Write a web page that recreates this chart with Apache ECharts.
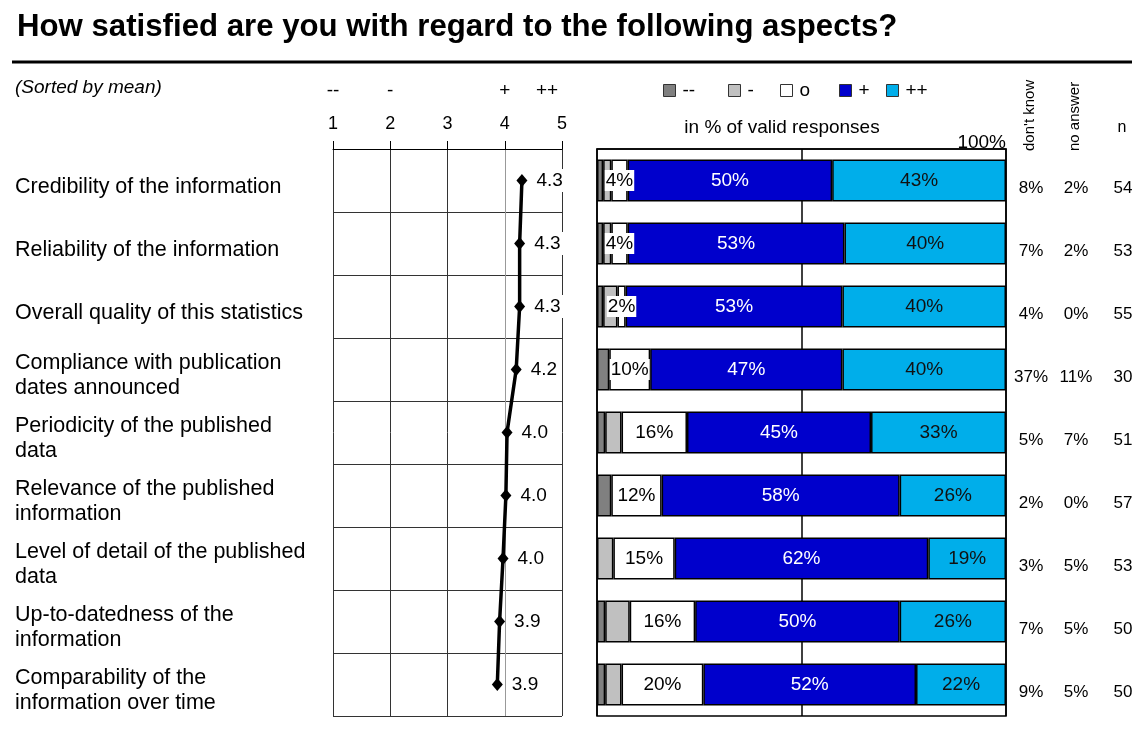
<!DOCTYPE html>
<html>
<head>
<meta charset="utf-8">
<script src="https://cdn.jsdelivr.net/npm/echarts@6/dist/echarts.min.js"></script>
<style>
html,body{margin:0;padding:0;background:#fff;overflow:hidden;}
#chart{width:1132px;height:729px;}
</style>
</head>
<body>
<div id="chart"></div>
<script>
// ---- data ----
const categories = [
  'Credibility of the information',
  'Reliability of the information',
  'Overall quality of this statistics',
  'Compliance with publication\ndates announced',
  'Periodicity of the published\ndata',
  'Relevance of the published\ninformation',
  'Level of detail of the published\ndata',
  'Up-to-datedness of the\ninformation',
  'Comparability of the\ninformation over time'
];
const meanValues = [4.30, 4.26, 4.26, 4.20, 4.04, 4.02, 3.97, 3.91, 3.87];
const scaleTicks = [1, 2, 3, 4, 5];
const scaleLabels = ['--', '-', '', '+', '++'];
const seriesNames = ['--', '-', 'o', '+', '++'];
const pctVeryNeg = [1.5, 1.5, 1.5, 3, 2, 3.5, 0, 2, 2];
const pctNeg     = [2, 2, 3.5, 0, 4, 0, 4, 6, 4];
const pctNeutral = [4, 4, 2, 10, 16, 12.3, 15, 16, 20];
const pctPos     = [50, 53, 53, 47, 45, 58.2, 62, 50, 52];
const pctVeryPos = [42.5, 39.5, 40, 40, 33, 26, 19, 26, 22];
const dontKnow = [8, 7, 4, 37, 5, 2, 3, 7, 9];
const noAnswer = [2, 2, 0, 11, 7, 0, 5, 5, 5];
const nCount   = [54, 53, 55, 30, 51, 57, 53, 50, 50];

// ---- styles ----
const FONT = '"Liberation Sans", Arial, Helvetica, sans-serif';
const colors = ['#808080', '#c0c0c0', '#ffffff', '#0000cc', '#00aeea'];
const labelColors = [null, null, '#000', '#fff', '#111'];
const pctData = [pctVeryNeg, pctNeg, pctNeutral, pctPos, pctVeryPos];
const legendLeft = [663, 728, 780, 839, 886];

const chart = echarts.init(document.getElementById('chart'), null, {renderer: 'canvas'});

const barSeries = seriesNames.map((name, i) => ({
  name: name,
  type: 'bar',
  xAxisIndex: 2,
  yAxisIndex: 1,
  stack: 'total',
  barWidth: 42,
  data: pctData[i].map(v => v === 0 ? '-' : v),
  itemStyle: {color: colors[i], borderColor: '#000', borderWidth: 1.5},
  label: labelColors[i] ? {
    show: true,
    position: 'inside',
    color: labelColors[i],
    fontFamily: FONT,
    fontSize: 19,
    backgroundColor: i === 2 ? '#fff' : 'transparent',
    padding: i === 2 ? [1, 1] : 0,
    formatter: p => Math.round(p.value) + '%'
  } : {show: false},
  emphasis: {disabled: true}
}));

// first text line gets a top padding so labels sit slightly below the row centre
const shifted = (fontSize, firstLH, lh, pad) => ({
  a: {fontFamily: FONT, fontSize: fontSize, lineHeight: firstLH, color: '#000', padding: [pad, 0, 0, 0]},
  b: {fontFamily: FONT, fontSize: fontSize, lineHeight: lh, color: '#000'}
});
const shiftFormatter = v => String(v).split('\n').map((s, k) => (k === 0 ? '{a|' : '{b|') + s + '}').join('\n');

const sideAxis = (arr, margin) => ({
  type: 'category',
  gridIndex: 1,
  inverse: true,
  position: 'right',
  data: arr,
  axisLine: {show: false},
  axisTick: {show: false},
  splitLine: {show: false},
  axisLabel: {
    interval: 0,
    margin: margin, align: 'center', color: '#000', fontFamily: FONT, fontSize: 17,
    formatter: shiftFormatter, rich: shifted(17, 30, 20, 16)
  }
});

const option = {
  backgroundColor: '#fff',
  animation: false,
  title: {
    text: 'How satisfied are you with regard to the following aspects?',
    left: 17, top: 12, padding: 0,
    textStyle: {fontFamily: FONT, fontSize: 31.2, fontWeight: 'bold', color: '#000'}
  },
  legend: seriesNames.map((name, i) => ({
    data: [name],
    left: legendLeft[i],
    top: 81,
    padding: 0,
    icon: 'rect',
    itemWidth: 12,
    itemHeight: 12,
    selectedMode: false,
    itemStyle: {borderColor: '#333', borderWidth: 1},
    textStyle: {fontFamily: FONT, fontSize: 19, color: '#000', padding: [0, 0, 0, 2]}
  })),
  grid: [
    {left: 333, right: 570, top: 149, bottom: 13, containLabel: false, outerBoundsMode: 'none'},
    {left: 597, right: 126, top: 149, bottom: 13, containLabel: false, outerBoundsMode: 'none',
     show: true, borderColor: '#000', borderWidth: 1.5, backgroundColor: 'transparent'}
  ],
  xAxis: [
    {
      type: 'value', gridIndex: 0, position: 'top',
      min: 1, max: 5, interval: 1,
      axisLine: {show: true, lineStyle: {color: '#000', width: 1}},
      axisTick: {show: true, inside: false, length: 8, lineStyle: {color: '#000'}},
      axisLabel: {margin: 16, color: '#000', fontFamily: FONT, fontSize: 18,
                  formatter: v => scaleTicks.indexOf(v) >= 0 ? String(v) : ''},
      splitLine: {show: true, lineStyle: {color: ['#333', '#333', '#333', '#999', '#333'], width: 1}}
    },
    {
      type: 'value', gridIndex: 0, position: 'top',
      min: 1, max: 5, interval: 1,
      axisLine: {show: false}, axisTick: {show: false}, splitLine: {show: false},
      axisLabel: {
        margin: 49, color: '#000', fontFamily: FONT, fontSize: 19,
        formatter: v => {
          const s = scaleLabels[v - 1] || '';
          if (!s) return '';
          return v === 5 ? '{r|' + s + '}' : s;
        },
        rich: {r: {fontFamily: FONT, fontSize: 19, color: '#000', padding: [0, 30, 0, 0]}}
      }
    },
    {
      type: 'value', gridIndex: 1, position: 'top',
      min: 0, max: 100, interval: 50,
      axisLine: {show: true, lineStyle: {color: '#000', width: 1.5}},
      axisTick: {show: false},
      splitLine: {show: true, lineStyle: {color: '#000', width: 1.5}},
      axisLabel: {
        margin: -3, align: 'right', color: '#000', fontFamily: FONT, fontSize: 19,
        formatter: v => v === 100 ? '100%' : ''
      }
    }
  ],
  yAxis: [
    {
      type: 'category', gridIndex: 0, inverse: true, data: categories,
      axisLine: {show: false}, axisTick: {show: false},
      splitLine: {show: true, lineStyle: {color: '#333', width: 1}},
      axisLabel: {
        interval: 0,
        align: 'left', margin: 318, color: '#000', fontFamily: FONT, fontSize: 21.5,
        formatter: shiftFormatter, rich: shifted(21.5, 37, 26, 13)
      }
    },
    {
      type: 'category', gridIndex: 1, inverse: true, data: categories,
      axisLine: {show: false}, axisTick: {show: false},
      axisLabel: {show: false}, splitLine: {show: false}
    },
    sideAxis(dontKnow.map(v => v + '%'), 25),
    sideAxis(noAnswer.map(v => v + '%'), 70),
    sideAxis(nCount.map(v => String(v)), 117)
  ],
  series: [
    {
      name: 'mean',
      type: 'line',
      xAxisIndex: 0,
      yAxisIndex: 0,
      data: meanValues.map((v, i) => [v, i]),
      symbol: 'diamond',
      symbolSize: [11, 13],
      itemStyle: {color: '#000'},
      lineStyle: {color: '#000', width: 3.5},
      label: {
        show: true, position: 'right', distance: 6,
        color: '#000', fontFamily: FONT, fontSize: 19,
        backgroundColor: '#fff', padding: [2, 3],
        formatter: p => p.value[0].toFixed(1)
      },
      emphasis: {disabled: true},
      z: 5
    }
  ].concat(barSeries),
  graphic: [
    {type: 'line', shape: {x1: 12, y1: 62, x2: 1132, y2: 62}, style: {stroke: '#000', lineWidth: 3}},
    {type: 'text', x: 15, y: 88, style: {text: '(Sorted by mean)', font: 'italic 19px ' + FONT, fill: '#000', textVerticalAlign: 'middle'}},
    {type: 'text', x: 782, y: 128, style: {text: 'in % of valid responses', font: '19px ' + FONT, fill: '#000', textAlign: 'center', textVerticalAlign: 'middle'}},
    {type: 'text', x: 1030, y: 151, rotation: Math.PI / 2, style: {text: "don't know", font: '15px ' + FONT, fill: '#000', textAlign: 'left', textVerticalAlign: 'middle'}},
    {type: 'text', x: 1075, y: 151, rotation: Math.PI / 2, style: {text: 'no answer', font: '15px ' + FONT, fill: '#000', textAlign: 'left', textVerticalAlign: 'middle'}},
    {type: 'text', x: 1122, y: 128, style: {text: 'n', font: '16px ' + FONT, fill: '#000', textAlign: 'center', textVerticalAlign: 'middle'}}
  ]
};

chart.setOption(option);
</script>
</body>
</html>
